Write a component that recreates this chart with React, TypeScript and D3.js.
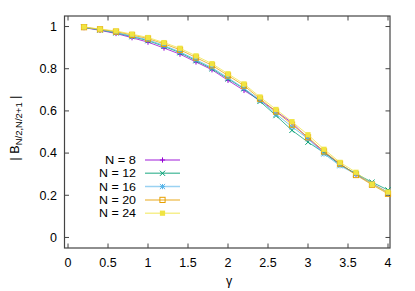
import React from "react";
import * as d3 from "d3";

const gammas = [0.2, 0.4, 0.6, 0.8, 1.0, 1.2, 1.4, 1.6, 1.8, 2.0, 2.2, 2.4, 2.6, 2.8, 3.0, 3.2, 3.4, 3.6, 3.8, 4.0];
const n8 = [0.995, 0.982, 0.967, 0.947, 0.926, 0.898, 0.869, 0.832, 0.795, 0.745, 0.697, 0.65, 0.598, 0.544, 0.47, 0.405, 0.347, 0.3, 0.255, 0.214];
const n12 = [0.996, 0.984, 0.97, 0.952, 0.933, 0.906, 0.876, 0.838, 0.8, 0.752, 0.705, 0.645, 0.578, 0.508, 0.452, 0.402, 0.345, 0.302, 0.262, 0.225];
const n16 = [0.996, 0.985, 0.972, 0.955, 0.937, 0.91, 0.88, 0.843, 0.805, 0.757, 0.707, 0.652, 0.585, 0.525, 0.468, 0.396, 0.34, 0.3, 0.255, 0.212];
const n20 = [0.997, 0.987, 0.976, 0.96, 0.943, 0.918, 0.89, 0.853, 0.816, 0.768, 0.72, 0.658, 0.597, 0.535, 0.475, 0.408, 0.35, 0.296, 0.25, 0.207];
const n24 = [0.998, 0.988, 0.979, 0.964, 0.948, 0.924, 0.897, 0.861, 0.824, 0.776, 0.728, 0.666, 0.607, 0.549, 0.487, 0.418, 0.356, 0.309, 0.252, 0.215];

const seriesLabels = ["N = 8", "N = 12", "N = 16", "N = 20", "N = 24"];
const seriesValues = [n8, n12, n16, n20, n24];
const colors = ["#9400d3", "#009e73", "#56b4e9", "#e69f00", "#f0e442"];
const markers = ["plus", "cross", "star", "openSquare", "filledSquare"];

const xTicks = [0, 0.5, 1, 1.5, 2, 2.5, 3, 3.5, 4];
const yTicks = [0, 0.2, 0.4, 0.6, 0.8, 1];

const FONT = "'Liberation Sans', Arial, sans-serif";

function Marker({ kind, x, y, color }: { kind: string; x: number; y: number; color: string }) {
  const s = 2.6;
  if (kind === "plus")
    return <path d={`M${x - s},${y}H${x + s}M${x},${y - s}V${y + s}`} stroke={color} strokeWidth={1} fill="none" />;
  if (kind === "cross")
    return <path d={`M${x - s},${y - s}L${x + s},${y + s}M${x - s},${y + s}L${x + s},${y - s}`} stroke={color} strokeWidth={1} fill="none" />;
  if (kind === "star")
    return (
      <path
        d={`M${x - s},${y}H${x + s}M${x},${y - s}V${y + s}M${x - s},${y - s}L${x + s},${y + s}M${x - s},${y + s}L${x + s},${y - s}`}
        stroke={color}
        strokeWidth={1}
        fill="none"
      />
    );
  if (kind === "openSquare")
    return <rect x={x - s} y={y - s} width={2 * s} height={2 * s} stroke={color} strokeWidth={1} fill="none" />;
  return <rect x={x - s} y={y - s} width={2 * s} height={2 * s} fill={color} />;
}

export default function App() {
  const W = 415;
  const H = 291;
  const left = 64.5, right = 390, top = 16, bottom = 248;
  const x = d3.scaleLinear().domain([-0.044, 4.025]).range([left, right]);
  const y = d3.scaleLinear().domain([-0.05, 1.05]).range([bottom, top]);
  const line = d3
    .line<[number, number]>()
    .x((d) => x(d[0]))
    .y((d) => y(d[1]));
  const tl = 4.5;
  const frame = "#444";

  return (
    <svg width={W} height={H} style={{ position: "absolute", left: 0, top: 0 }} fontFamily={FONT}>
      <rect x={0} y={0} width={W} height={H} fill="#fff" />
      {xTicks.map((t) => (
        <g key={"xt" + t}>
          <line x1={x(t)} x2={x(t)} y1={bottom} y2={bottom - tl} stroke={frame} strokeWidth={1} />
          <line x1={x(t)} x2={x(t)} y1={top} y2={top + tl} stroke={frame} strokeWidth={1} />
          <text x={x(t)} y={267} textAnchor="middle" fontSize={12.5} fill="#000">
            {t}
          </text>
        </g>
      ))}
      {yTicks.map((t) => (
        <g key={"yt" + t}>
          <line x1={left} x2={left + tl} y1={y(t)} y2={y(t)} stroke={frame} strokeWidth={1} />
          <line x1={right} x2={right - tl} y1={y(t)} y2={y(t)} stroke={frame} strokeWidth={1} />
          <text x={57} y={y(t) + 4.3} textAnchor="end" fontSize={12.5} fill="#000">
            {t}
          </text>
        </g>
      ))}
      <rect x={left} y={top} width={right - left} height={bottom - top} fill="none" stroke={frame} strokeWidth={1.2} />

      {seriesValues.map((vals, i) => {
        const pts: [number, number][] = gammas.map((g, j) => [g, vals[j]]);
        return (
          <g key={"s" + i}>
            <path d={line(pts) || ""} fill="none" stroke={colors[i]} strokeWidth={1} strokeOpacity={0.75} />
            {pts.map((p, j) => (
              <Marker key={j} kind={markers[i]} x={x(p[0])} y={y(p[1])} color={colors[i]} />
            ))}
          </g>
        );
      })}

      {seriesLabels.map((lab, i) => {
        const ly = 160 + i * 13.3;
        return (
          <g key={"l" + i}>
            <text x={136} y={ly + 4} textAnchor="end" fontSize={11.4} fill="#000" textLength={lab.length > 5 ? 37 : 31} lengthAdjust="spacingAndGlyphs">
              {lab}
            </text>
            <line x1={145} x2={180} y1={ly} y2={ly} stroke={colors[i]} strokeWidth={1.5} strokeOpacity={0.6} />
            <Marker kind={markers[i]} x={162.5} y={ly} color={colors[i]} />
          </g>
        );
      })}

      <text x={229} y={285} textAnchor="middle" fontSize={12.5} fill="#000">
        γ
      </text>
      <text transform="translate(19,128) rotate(-90)" textAnchor="middle" fontSize={12.5} fill="#000">
        {"| B"}
        <tspan fontSize={9.5} dy={3}>
          N/2,N/2+1
        </tspan>
        <tspan dy={-3}>{" |"}</tspan>
      </text>
    </svg>
  );
}
